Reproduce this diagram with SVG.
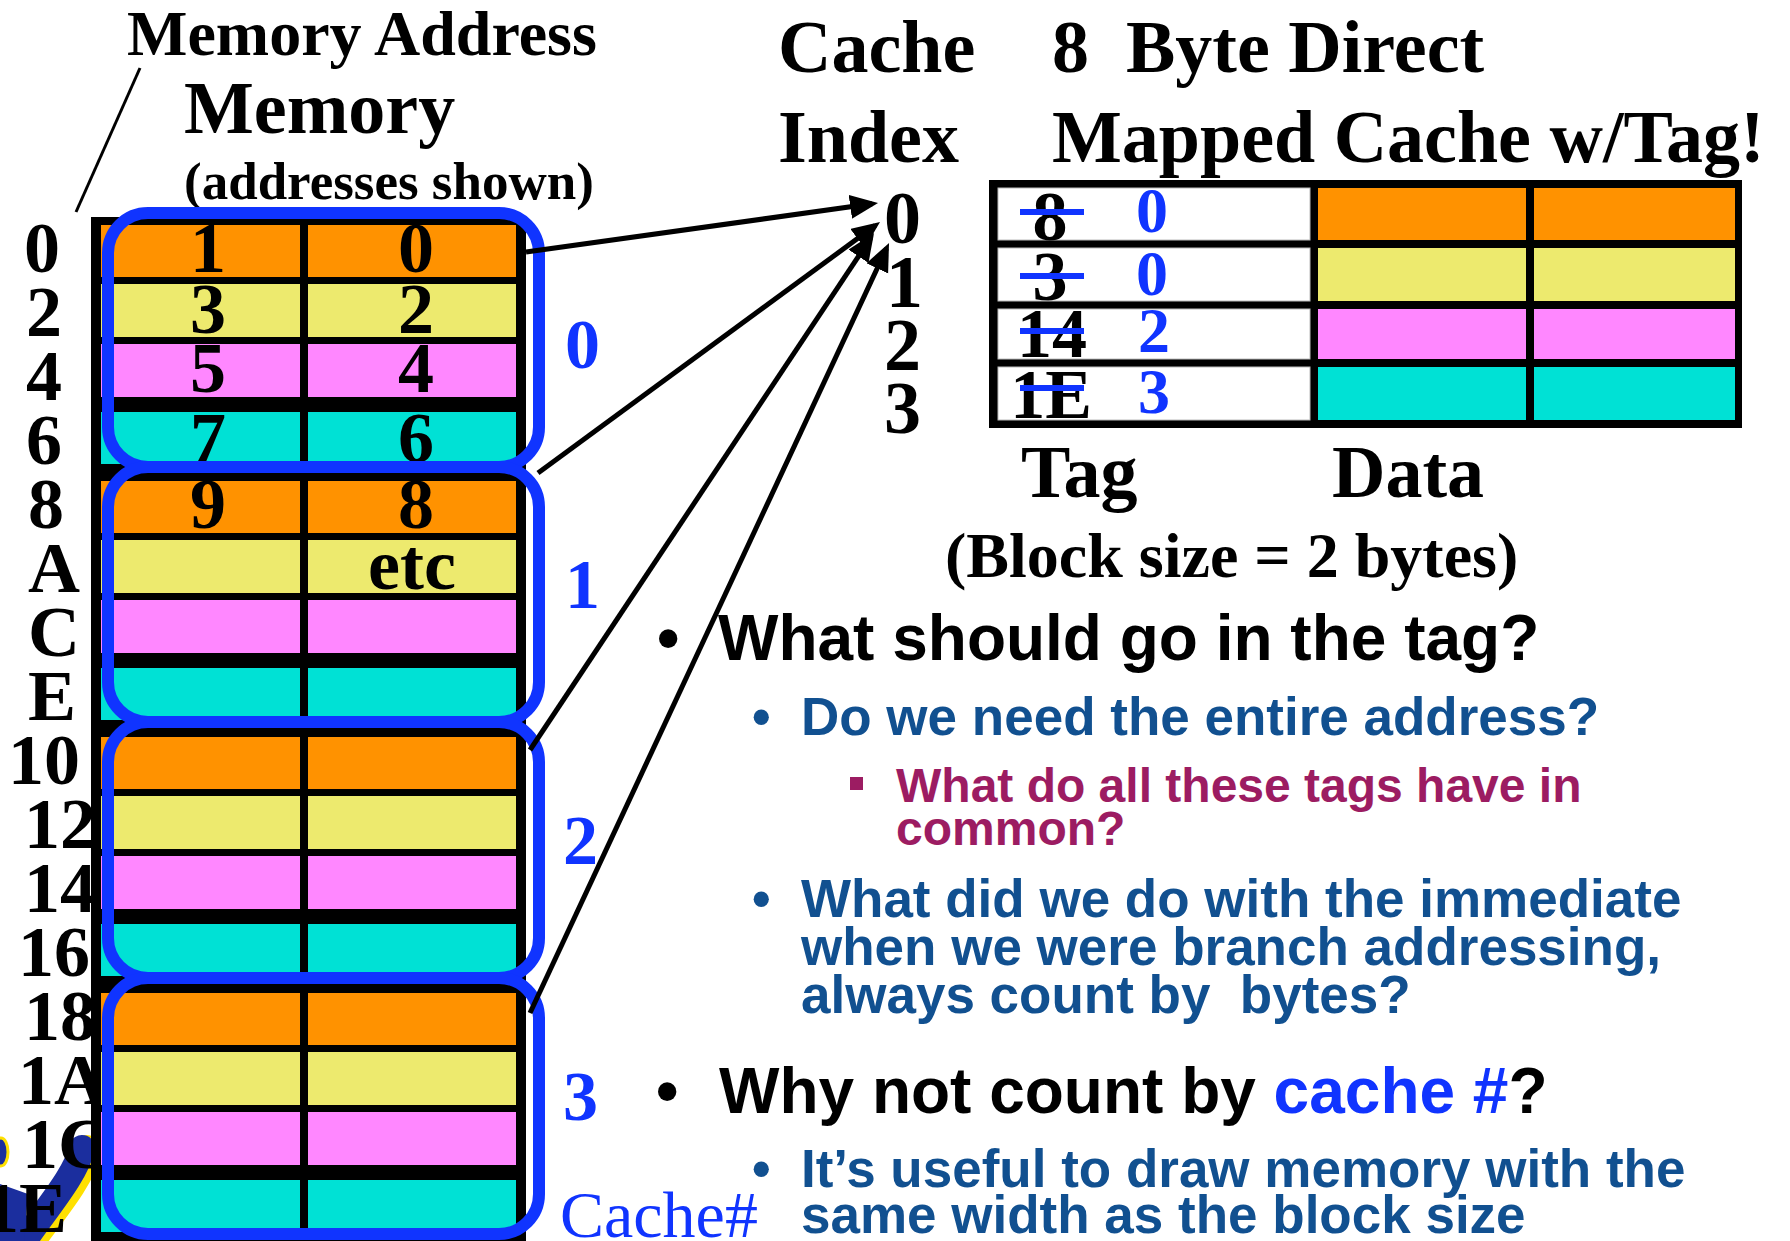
<svg xmlns="http://www.w3.org/2000/svg" width="1790" height="1241" viewBox="0 0 1790 1241">
  <style>
    .serif { font-family: "Liberation Serif", "Times New Roman", serif; font-weight: bold; }
    .serif-reg { font-family: "Liberation Serif", "Times New Roman", serif; font-weight: normal; }
    .sans { font-family: "Liberation Sans", Arial, sans-serif; font-weight: bold; }
    .lbl { font-size: 72px; fill: #000; }
    .cell { font-size: 72px; fill: #000; text-anchor: middle; }
    .blue { fill: #1034FF; }
    .or { fill: #FF9200; }
    .ye { fill: #EDEA6E; }
    .pk { fill: #FF87FF; }
    .cy { fill: #00E1D5; }
    .block { fill: none; stroke: #1034FF; stroke-width: 12; }
    .conn { stroke: #000; stroke-width: 5; fill: none; marker-end: url(#head); }
    .strike { stroke: #1034FF; stroke-width: 6; }
    .l1 { font-size: 64px; fill: #000; }
    .l2 { font-size: 53px; fill: #115090; }
    .l3 { font-size: 48px; fill: #9C1C62; }
  </style>
  <defs>
    <marker id="head" markerUnits="userSpaceOnUse" markerWidth="30" markerHeight="26" refX="22" refY="12" orient="auto">
      <path d="M0,0 L28,12 L0,24 Z" fill="#000"/>
    </marker>
    <!-- one memory group of four 2-byte rows -->
    <g id="rowgroup">
      <rect class="or" x="101" y="8" width="199" height="52"/>
      <rect class="or" x="308" y="8" width="208" height="52"/>
      <rect class="ye" x="101" y="67" width="199" height="53"/>
      <rect class="ye" x="308" y="67" width="208" height="53"/>
      <rect class="pk" x="101" y="127" width="199" height="53"/>
      <rect class="pk" x="308" y="127" width="208" height="53"/>
      <rect class="cy" x="101" y="195" width="199" height="52"/>
      <rect class="cy" x="308" y="195" width="208" height="52"/>
    </g>
  </defs>

  <rect width="1790" height="1241" fill="#fff"/>

  <!-- logo fragment, bottom left -->
  <g id="logo">
    <path d="M87 1150 C 81 1176 56 1206 30 1241" stroke="#FFE000" stroke-width="30" fill="none" stroke-linecap="round"/>
    <path d="M82 1148 C 76 1174 50 1204 24 1241" stroke="#1B2E9E" stroke-width="26" fill="none" stroke-linecap="round"/>
    <ellipse cx="1" cy="1152" rx="7" ry="14" fill="#1B2E9E" stroke="#FFE000" stroke-width="3"/>
    <path d="M0 1184 L28 1194 L24 1241 L0 1241 Z" fill="#1B2E9E"/>
  </g>

  <!-- heading and pointer line -->
  <g id="memory-title">
    <text class="serif" x="127" y="55" font-size="64">Memory Address</text>
    <text class="serif" x="184" y="133" font-size="74">Memory</text>
    <text class="serif" x="184" y="199" font-size="53">(addresses shown)</text>
    <line x1="140" y1="68" x2="76" y2="212" stroke="#000" stroke-width="3"/>
  </g>

  <!-- address labels -->
  <g id="addresses" class="serif lbl">
    <text x="24" y="272">0</text>
    <text x="26" y="336">2</text>
    <text x="26" y="400">4</text>
    <text x="26" y="464">6</text>
    <text x="28" y="528">8</text>
    <text x="28" y="592">A</text>
    <text x="28" y="656">C</text>
    <text x="28" y="720">E</text>
    <text x="8" y="784">10</text>
    <text x="24" y="848">12</text>
    <text x="24" y="912">14</text>
    <text x="18" y="976">16</text>
    <text x="24" y="1040">18</text>
    <text x="18" y="1104">1A</text>
    <text x="22" y="1168">1C</text>
    <text x="-17" y="1232">1E</text>
  </g>

  <!-- memory array -->
  <g id="memory">
    <rect x="91" y="217" width="435" height="1030" fill="#000"/>
    <use href="#rowgroup" y="217"/>
    <use href="#rowgroup" y="473"/>
    <use href="#rowgroup" y="729"/>
    <use href="#rowgroup" y="985"/>
    <g class="serif cell">
      <text x="208" y="272">1</text><text x="416" y="272">0</text>
      <text x="208" y="333">3</text><text x="416" y="333">2</text>
      <text x="208" y="392">5</text><text x="416" y="392">4</text>
      <text x="208" y="462">7</text><text x="416" y="462">6</text>
      <text x="208" y="528">9</text><text x="416" y="528">8</text>
      <text x="412" y="589">etc</text>
    </g>
  </g>

  <!-- cache blocks -->
  <g id="block0"><rect class="block" x="108" y="213" width="431" height="254" rx="40"/><text class="serif blue" x="565" y="368" font-size="70">0</text></g>
  <g id="block1"><rect class="block" x="108" y="467" width="431" height="255" rx="40"/><text class="serif blue" x="565" y="608" font-size="70">1</text></g>
  <g id="block2"><rect class="block" x="108" y="722" width="431" height="256" rx="40"/><text class="serif blue" x="563" y="864" font-size="70">2</text></g>
  <g id="block3"><rect class="block" x="108" y="978" width="431" height="256" rx="40"/><text class="serif blue" x="563" y="1120" font-size="70">3</text></g>
  <text class="serif-reg blue" x="560" y="1237" font-size="66">Cache#</text>

  <!-- cache headings -->
  <g id="cache-title" class="serif" font-size="74">
    <text x="778" y="72">Cache</text>
    <text x="778" y="162">Index</text>
    <text x="1052" y="72" xml:space="preserve">8  Byte Direct</text>
    <text x="1052" y="162">Mapped Cache w/Tag!</text>
  </g>

  <!-- index numbers -->
  <g id="index" class="serif" font-size="74">
    <text x="884" y="243">0</text>
    <text x="886" y="307">1</text>
    <text x="884" y="370">2</text>
    <text x="884" y="433">3</text>
  </g>

  <!-- cache table -->
  <g id="cache">
    <rect x="989" y="180" width="753" height="248" fill="#000"/>
    <g fill="#fff" stroke="#bbb" stroke-width="1">
      <rect x="998" y="188" width="312" height="52"/>
      <rect x="998" y="248" width="312" height="53"/>
      <rect x="998" y="309" width="312" height="50"/>
      <rect x="998" y="367" width="312" height="53"/>
    </g>
    <rect class="or" x="1318" y="188" width="208" height="52"/><rect class="or" x="1534" y="188" width="201" height="52"/>
    <rect class="ye" x="1318" y="248" width="208" height="53"/><rect class="ye" x="1534" y="248" width="201" height="53"/>
    <rect class="pk" x="1318" y="309" width="208" height="50"/><rect class="pk" x="1534" y="309" width="201" height="50"/>
    <rect class="cy" x="1318" y="367" width="208" height="53"/><rect class="cy" x="1534" y="367" width="201" height="53"/>
    <g class="serif" font-size="70" text-anchor="middle">
      <text x="1050" y="240">8</text>
      <text x="1050" y="300">3</text>
      <text x="1052" y="357">14</text>
      <text x="1051" y="418">1E</text>
    </g>
    <line class="strike" x1="1020" y1="212" x2="1084" y2="212"/>
    <line class="strike" x1="1020" y1="276" x2="1084" y2="276"/>
    <line class="strike" x1="1020" y1="331" x2="1084" y2="331"/>
    <line class="strike" x1="1020" y1="388" x2="1084" y2="388"/>
    <g class="serif blue" font-size="64" text-anchor="middle">
      <text x="1152" y="232">0</text>
      <text x="1152" y="295">0</text>
      <text x="1154" y="352">2</text>
      <text x="1154" y="413">3</text>
    </g>
    <text class="serif" x="1021" y="497" font-size="74">Tag</text>
    <text class="serif" x="1332" y="497" font-size="74">Data</text>
    <text class="serif" x="945" y="577" font-size="64">(Block size = 2 bytes)</text>
  </g>

  <!-- connectors -->
  <g id="connectors">
    <line class="conn" x1="526" y1="252" x2="872.1" y2="203.8"/>
    <line class="conn" x1="538" y1="473" x2="875.2" y2="225.6"/>
    <line class="conn" x1="530" y1="750" x2="870.7" y2="238.0"/>
    <line class="conn" x1="530" y1="1013" x2="886.5" y2="248.4"/>
  </g>

  <!-- bullet text -->
  <g id="notes" class="sans">
    <text class="l1" x="657" y="660">•</text>
    <text class="l1" x="718" y="660">What should go in the tag?</text>
    <text class="l2" x="752" y="735" font-size="36">•</text>
    <text class="l2" x="801" y="735">Do we need the entire address?</text>
    <rect x="850" y="777" width="13" height="13" fill="#9C1C62"/>
    <text class="l3" x="896" y="802">What do all these tags have in</text>
    <text class="l3" x="896" y="845">common?</text>
    <text class="l2" x="752" y="917" font-size="36">•</text>
    <text class="l2" x="801" y="917">What did we do with the immediate</text>
    <text class="l2" x="801" y="965">when we were branch addressing,</text>
    <text class="l2" x="801" y="1013" xml:space="preserve">always count by  bytes?</text>
    <text class="l1" x="656" y="1113">•</text>
    <text class="l1" x="719" y="1113" xml:space="preserve">Why not count by <tspan fill="#1034FF">cache #</tspan>?</text>
    <text class="l2" x="752" y="1187" font-size="36">•</text>
    <text class="l2" x="801" y="1187">It’s useful to draw memory with the</text>
    <text class="l2" x="801" y="1233">same width as the block size</text>
  </g>
</svg>
